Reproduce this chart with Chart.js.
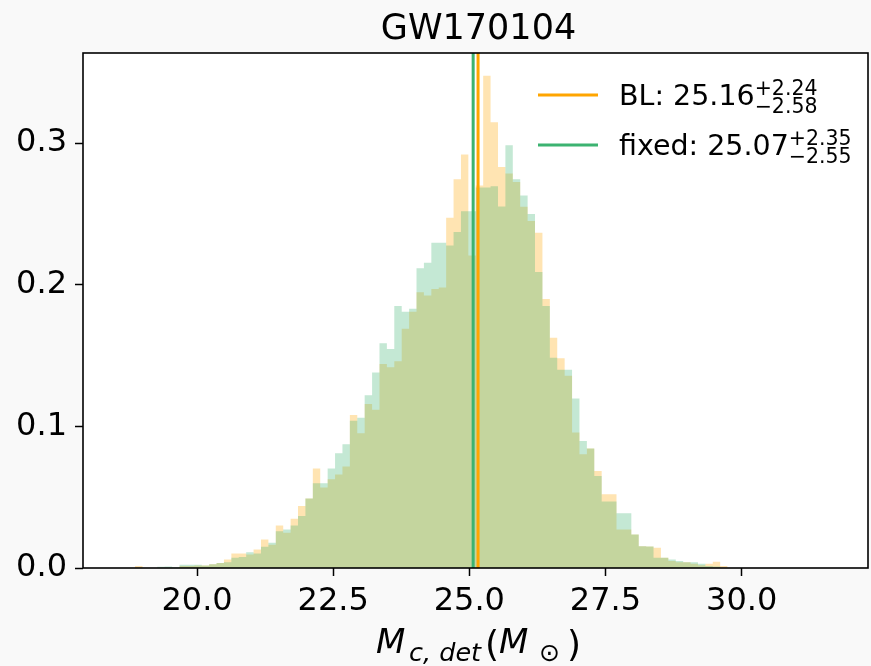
<!DOCTYPE html>
<html>
<head>
<meta charset="utf-8">
<script src="https://cdn.jsdelivr.net/npm/chart.js@4.4.1/dist/chart.umd.min.js"></script>
<style>
  html, body { margin: 0; padding: 0; background: #f9f9f9; }
  #wrap { width: 871px; height: 666px; }
</style>
</head>
<body>
<div id="wrap"><canvas id="hist" width="871" height="666"></canvas></div>
<script>
// histogram bins (shared by both runs)
const BIN_LO = 18.726;
const BIN_W = 0.136;

// density per bin
const blDensity = [
  0, 0.0014, 0, 0, 0, 0, 0, 0.0015, 0.0015, 0.0018,
  0.0018, 0.0026, 0.0035, 0.006, 0.0103, 0.0103, 0.0096, 0.0131, 0.0202, 0.0165,
  0.030, 0.0249, 0.0348, 0.0437, 0.049, 0.0702, 0.0568, 0.0626, 0.066, 0.0716,
  0.108, 0.0952, 0.1157, 0.1117, 0.144, 0.1417, 0.146, 0.169, 0.181, 0.1947,
  0.1924, 0.197, 0.198, 0.2473, 0.2744, 0.2919, 0.2207, 0.270, 0.3476, 0.3147,
  0.2832, 0.2785, 0.2726, 0.255, 0.245, 0.2367, 0.19, 0.1626, 0.148, 0.1357,
  0.0956, 0.0803, 0.0843, 0.0685, 0.052, 0.052, 0.0272, 0.0272, 0.0237, 0.0154,
  0.0152, 0.0143, 0.0072, 0.005, 0.004, 0.004, 0.003, 0.002, 0.003, 0.0045,
  0.0015
];
const fixedDensity = [
  0, 0, 0, 0, 0.0008, 0.001, 0.0005, 0.0023, 0.0023, 0.0023,
  0.0018, 0.0026, 0.0035, 0.004, 0.0072, 0.0077, 0.0112, 0.0103, 0.015, 0.0178,
  0.026, 0.0272, 0.030, 0.0367, 0.049, 0.0598, 0.0598, 0.0702, 0.081, 0.0874,
  0.104, 0.106, 0.122, 0.138, 0.1587, 0.1546, 0.185, 0.181, 0.183, 0.2117,
  0.2155, 0.2297, 0.2297, 0.2277, 0.2372, 0.2518, 0.2518, 0.2686, 0.2686, 0.2695,
  0.2553, 0.2985, 0.2745, 0.263, 0.250, 0.209, 0.185, 0.1485, 0.140, 0.140,
  0.1197, 0.0897, 0.0843, 0.065, 0.047, 0.047, 0.0386, 0.0386, 0.0237, 0.0154,
  0.0152, 0.0072, 0.0072, 0.006, 0.005, 0.004, 0.004, 0.003, 0.0015, 0.001,
  0
];

const blMedian = 25.16;
const fixedMedian = 25.07;
const blLabel = ["BL: 25.16", "+2.24", "\u22122.58"];
const fixedLabel = ["fixed: 25.07", "+2.35", "\u22122.55"];

const xTicks = [20, 22.5, 25, 27.5, 30];
const yTicks = [0, 0.1, 0.2, 0.3];
const xRange = [17.906, 32.32];
const yRange = [0, 0.3636];

const ORANGE = "#ffa500";
const GREEN = "#3cb371";
const FONT = '"DejaVu Sans", sans-serif';

// step outline: one point per left bin edge, plus the closing right edge
function stepPoints(vals) {
  const pts = vals.map((v, i) => ({ x: BIN_LO + BIN_W * i, y: v }));
  pts.push({ x: BIN_LO + BIN_W * vals.length, y: vals[vals.length - 1] });
  return pts;
}
const vline = (x) => [{ x: x, y: yRange[0] }, { x: x, y: yRange[1] }];

function drawScripted(ctx, x, y, parts, size, small) {
  ctx.font = size + "px " + FONT;
  ctx.fillText(parts[0], x, y);
  const w = ctx.measureText(parts[0]).width;
  ctx.font = small + "px " + FONT;
  ctx.fillText(parts[1], x + w, y - 10);
  ctx.fillText(parts[2], x + w, y + 8);
}

const decor = {
  id: "decor",
  beforeDraw(chart) {
    const { ctx, chartArea: a } = chart;
    ctx.save();
    ctx.fillStyle = "#f9f9f9";
    ctx.fillRect(0, 0, chart.width, chart.height);
    ctx.fillStyle = "#ffffff";
    ctx.fillRect(a.left, a.top, a.right - a.left, a.bottom - a.top);
    ctx.restore();
  },
  afterDraw(chart) {
    const { ctx, chartArea: a } = chart;
    ctx.save();
    ctx.strokeStyle = "#000";
    ctx.lineWidth = 1.6;
    ctx.strokeRect(a.left, a.top, a.right - a.left, a.bottom - a.top);

    ctx.fillStyle = "#000";
    ctx.textBaseline = "alphabetic";

    ctx.font = "35px " + FONT;
    ctx.textAlign = "center";
    ctx.fillText("GW170104", (a.left + a.right) / 2 + 3, 39);

    // legend
    ctx.textAlign = "left";
    ctx.lineWidth = 3;
    ctx.strokeStyle = ORANGE;
    ctx.beginPath(); ctx.moveTo(538, 95); ctx.lineTo(598, 95); ctx.stroke();
    ctx.strokeStyle = GREEN;
    ctx.beginPath(); ctx.moveTo(538, 145); ctx.lineTo(598, 145); ctx.stroke();
    drawScripted(ctx, 619, 105, blLabel, 28.5, 20.5);
    drawScripted(ctx, 619, 155, fixedLabel, 28.5, 20.5);

    // x label: M_{c, det} (M_sun)
    ctx.font = "italic 34px " + FONT;
    ctx.fillText("M", 376, 653);
    ctx.font = "italic 25.5px " + FONT;
    ctx.fillText("c, det", 409, 661);
    ctx.font = "36px " + FONT;
    ctx.fillText("(", 485, 656);
    ctx.font = "italic 34px " + FONT;
    ctx.fillText("M", 499, 653);
    ctx.font = "25px " + FONT;
    ctx.fillText("\u2299", 539, 661);
    ctx.font = "36px " + FONT;
    ctx.fillText(")", 567, 656);
    ctx.restore();
  },
};

Chart.defaults.font.family = FONT;
Chart.defaults.color = "#000";

const histStyle = { stepped: "before", pointRadius: 0, borderWidth: 0, borderColor: "rgba(0,0,0,0)", fill: "origin" };

new Chart(document.getElementById("hist"), {
  type: "line",
  data: {
    datasets: [
      { data: vline(blMedian), borderColor: ORANGE, borderWidth: 3, pointRadius: 0, fill: false, order: 0 },
      { data: vline(fixedMedian), borderColor: GREEN, borderWidth: 3, pointRadius: 0, fill: false, order: 1 },
      Object.assign({ data: stepPoints(fixedDensity), backgroundColor: "rgba(60,179,113,0.3)", order: 2 }, histStyle),
      Object.assign({ data: stepPoints(blDensity), backgroundColor: "rgba(255,165,0,0.3)", order: 3 }, histStyle),
    ],
  },
  options: {
    responsive: false,
    devicePixelRatio: 1,
    animation: false,
    events: [],
    layout: { padding: { top: 53, right: 3, left: 0, bottom: 0 } },
    plugins: { legend: { display: false }, tooltip: { enabled: false }, title: { display: false } },
    scales: {
      x: {
        type: "linear",
        min: xRange[0],
        max: xRange[1],
        afterBuildTicks: (s) => { s.ticks = xTicks.map((v) => ({ value: v })); },
        afterFit: (s) => { s.height = 98; },
        ticks: { font: { size: 32 }, padding: 6, maxRotation: 0, callback: (v) => v.toFixed(1) },
        grid: { drawOnChartArea: false, tickLength: 8, tickWidth: 1.5, tickColor: "#000" },
        border: { display: false },
      },
      y: {
        min: yRange[0],
        max: yRange[1],
        afterBuildTicks: (s) => { s.ticks = yTicks.map((v) => ({ value: v })); },
        afterFit: (s) => { s.width = 83; },
        ticks: { font: { size: 32 }, padding: 8, callback: (v) => v.toFixed(1) },
        grid: { drawOnChartArea: false, tickLength: 8, tickWidth: 1.5, tickColor: "#000" },
        border: { display: false },
      },
    },
  },
  plugins: [decor],
});
</script>
</body>
</html>
